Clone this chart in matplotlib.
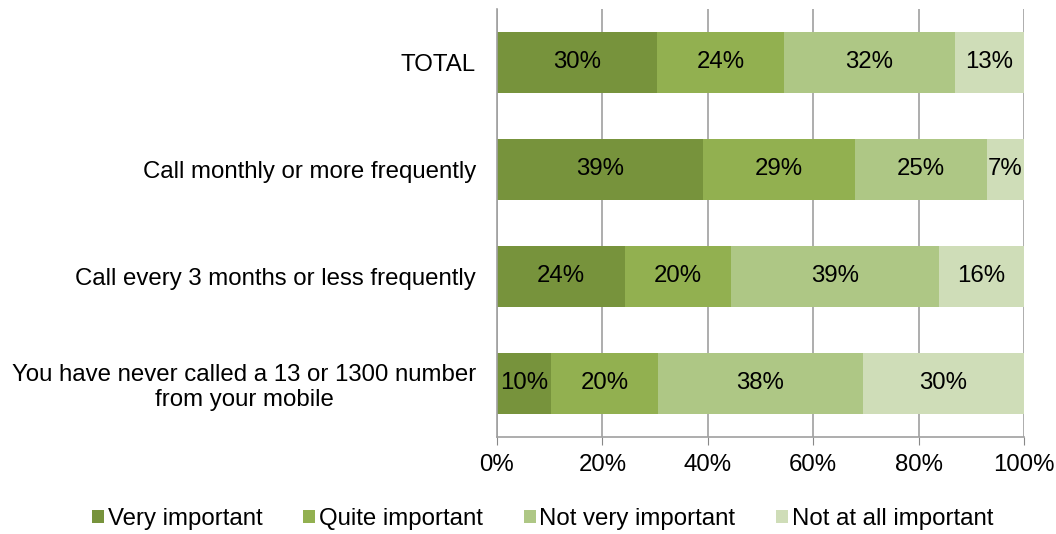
import matplotlib.pyplot as plt
import numpy as np

plt.rcParams['font.family'] = ['Liberation Sans', 'DejaVu Sans']

categories = ['TOTAL', 'Call monthly or more frequently',
              'Call every 3 months or less frequently',
              'You have never called a 13 or 1300 number\nfrom your mobile']
series = ['Very important', 'Quite important', 'Not very important', 'Not at all important']
very = [30, 39, 24, 10]
quite = [24, 29, 20, 20]
not_very = [32, 25, 39, 38]
not_at_all = [13, 7, 16, 30]
colors = ['#77933C', '#92B050', '#AEC785', '#CFDDB8']

data = np.array([very, quite, not_very, not_at_all], dtype=float)
shares = data / data.sum(axis=0)  # 100% stacked like Excel

fig = plt.figure(figsize=(10.56, 5.34), dpi=100)
ax = fig.add_axes([0.4706, 0.1816, 0.4991, 0.802])

y = np.arange(len(categories))
left = np.zeros(len(categories))
for i, name in enumerate(series):
    ax.barh(y, shares[i], left=left, height=0.57, color=colors[i], label=name, zorder=2)
    for j in range(len(categories)):
        ax.text(left[j] + shares[i][j] / 2, y[j], f'{int(data[i][j])}%',
                ha='center', va='center', fontsize=17.3, color='black', zorder=3)
    left += shares[i]

ax.set_xlim(0, 1)
ax.set_ylim(3.5, -0.5)
ax.set_xticks(np.arange(0, 1.01, 0.2))
ax.set_xticklabels([f'{int(v * 100)}%' for v in np.arange(0, 1.01, 0.2)], fontsize=17.3)
ax.set_yticks(y)
ax.set_yticklabels(categories, fontsize=17.3, ha='right', multialignment='center')
ax.tick_params(axis='y', length=0, pad=15)
ax.tick_params(axis='x', length=6, color='#888888', pad=6)
ax.grid(axis='x', color='#a0a0a0', linewidth=1.2, zorder=0)
for s in ['top', 'right']:
    ax.spines[s].set_visible(False)
for s in ['left', 'bottom']:
    ax.spines[s].set_color('#a0a0a0')
    ax.spines[s].set_linewidth(1.2)

fig.legend(loc='center', bbox_to_anchor=(0.514, 0.028), ncol=4, frameon=False,
           fontsize=17.3, handlelength=0.5, handleheight=0.5, handletextpad=0.15,
           columnspacing=1.7)

plt.savefig('out.png', dpi=100)
